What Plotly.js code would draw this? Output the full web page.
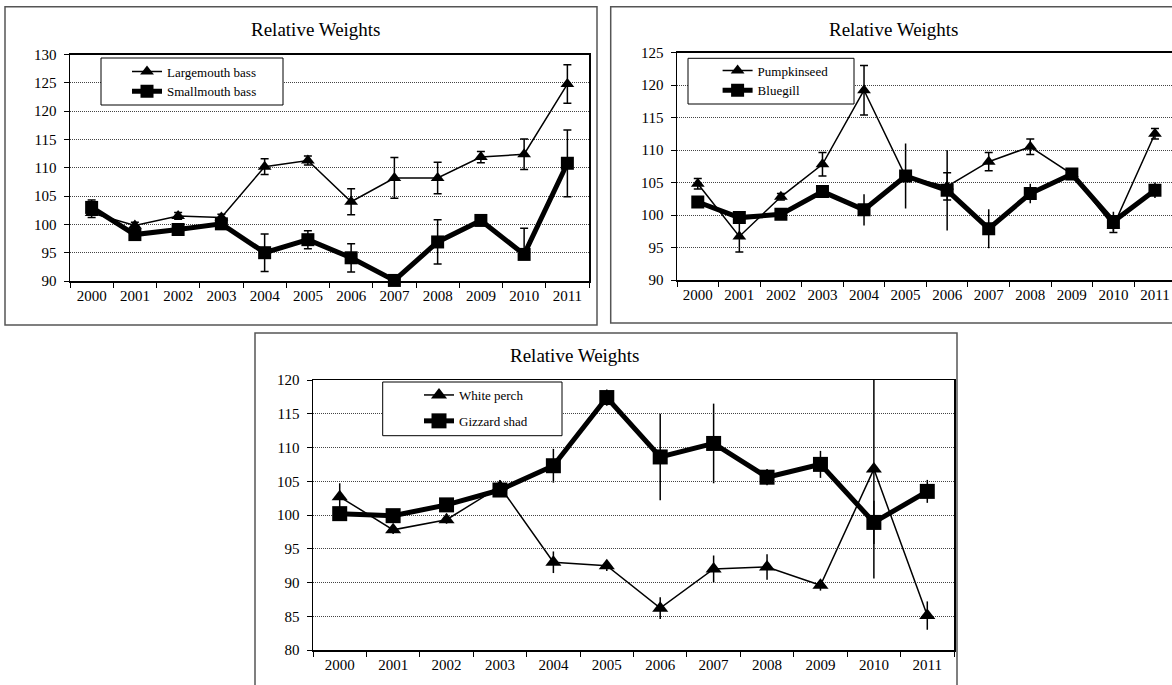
<!DOCTYPE html>
<html>
<head>
<meta charset="utf-8">
<script src="https://cdn.plot.ly/plotly-3.0.1.min.js"></script>
<style>
  html, body { margin: 0; padding: 0; background: #fff; }
  #chart { width: 1172px; height: 685px; }
</style>
</head>
<body>
<div id="chart"></div>
<script>
// ---------- data ----------
var years = ['2000','2001','2002','2003','2004','2005','2006','2007','2008','2009','2010','2011'];
var chartTitle = 'Relative Weights';

// Panel 1
var largemouth      = [102.0, 99.8, 101.5, 101.2, 110.2, 111.3, 104.0, 108.2, 108.2, 111.9, 112.4, 124.8];
var largemouthErr   = [0.8, 0.6, 0.6, 0.6, 1.4, 0.8, 2.3, 3.6, 2.8, 1.0, 2.7, 3.4];
var smallmouth      = [103.0, 98.2, 99.1, 100.1, 95.0, 97.3, 94.1, 90.1, 96.9, 100.7, 94.7, 110.8];
var smallmouthErrUp = [1.3, 1.0, 0.8, 0.8, 3.3, 1.6, 2.5, 0.6, 3.9, 0.5, 4.6, 5.9];
var smallmouthErrDn = [1.3, 1.0, 0.8, 0.8, 3.3, 1.6, 2.5, 0.6, 3.9, 0.5, 0.8, 5.9];

// Panel 2
var pumpkinseed    = [104.8, 96.7, 102.8, 107.8, 119.2, 105.9, 104.4, 108.2, 110.5, 106.3, 98.3, 112.5];
var pumpkinseedErr = [0.8, 2.4, 0.5, 1.8, 3.8, 0.6, 2.1, 1.4, 1.2, 0.5, 1.0, 0.8];
var bluegill       = [102.0, 99.6, 100.1, 103.6, 100.8, 106.0, 103.8, 97.9, 103.3, 106.3, 99.0, 103.8];
var bluegillErr    = [0.8, 0.8, 0.5, 0.7, 2.4, 5.0, 6.2, 3.0, 1.5, 0.6, 1.5, 1.2];

// Panel 3
var whitePerch     = [102.7, 97.8, 99.3, 104.2, 93.0, 92.5, 86.2, 92.0, 92.3, 89.6, 106.8, 85.1];
var whitePerchErr  = [2.0, 0.6, 0.6, 1.0, 1.6, 0.8, 1.6, 2.0, 1.9, 0.8, 16.2, 2.1];
var gizzardShad    = [100.2, 99.9, 101.5, 103.7, 107.3, 117.4, 108.6, 110.6, 105.6, 107.5, 98.9, 103.5];
var gizzardShadErr = [0.8, 0.6, 0.6, 0.8, 2.5, 1.2, 6.4, 5.9, 1.2, 2.0, 3.2, 1.7];

// ---------- helpers ----------
var FONT = "'Liberation Serif', 'Times New Roman', 'DejaVu Serif', serif";
var W = 1172, H = 685;
function px(x) { return x / W; }
function py(y) { return 1 - y / H; }

function thinTrace(name, y, err, errMinus, xa, ya, leg, msize, cap) {
  return {
    type: 'scatter', mode: 'lines+markers', name: name, x: years, y: y,
    xaxis: xa, yaxis: ya, legend: leg, legendgroup: name,
    line: { color: '#000', width: 1.5 },
    marker: { symbol: 'triangle-up', size: msize, color: '#000' },
    error_y: { type: 'data', array: err, arrayminus: errMinus || err, visible: true,
               color: '#000', thickness: 1.5, width: cap }
  };
}
function thickTrace(name, y, err, errMinus, xa, ya, leg, msize, cap, clip) {
  return {
    type: 'scatter', mode: 'lines+markers', name: name, x: years, y: y,
    xaxis: xa, yaxis: ya, legend: leg, legendgroup: name, cliponaxis: clip,
    line: { color: '#000', width: 5 },
    marker: { symbol: 'square', size: msize, color: '#000' },
    error_y: { type: 'data', array: err, arrayminus: errMinus || err, visible: true,
               color: '#000', thickness: 1.5, width: cap }
  };
}

var data = [
  thinTrace('Largemouth bass', largemouth, largemouthErr, null, 'x', 'y', 'legend', 12, 4),
  thickTrace('Smallmouth bass', smallmouth, smallmouthErrUp, smallmouthErrDn, 'x', 'y', 'legend', 13, 4, false),
  thinTrace('Pumpkinseed', pumpkinseed, pumpkinseedErr, null, 'x2', 'y2', 'legend2', 12, 4),
  thickTrace('Bluegill', bluegill, bluegillErr, null, 'x2', 'y2', 'legend2', 13, 0, true),
  thinTrace('White perch', whitePerch, whitePerchErr, null, 'x3', 'y3', 'legend3', 14, 0),
  thickTrace('Gizzard shad', gizzardShad, gizzardShadErr, null, 'x3', 'y3', 'legend3', 15, 0, true)
];

function xAxis(domain, range, anchor) {
  return {
    domain: domain, anchor: anchor, type: 'category', range: range,
    tickson: 'boundaries', ticks: 'outside', ticklen: 5, tickwidth: 1, tickcolor: '#000',
    showline: true, linecolor: '#000', linewidth: 1.5, mirror: true,
    showgrid: false, zeroline: false, fixedrange: true,
    tickfont: { family: FONT, size: 15, color: '#000' }
  };
}
function yAxis(domain, range, anchor) {
  return {
    domain: domain, anchor: anchor, range: range, dtick: 5, tick0: range[0],
    ticks: 'outside', ticklen: 5, tickwidth: 1, tickcolor: '#000',
    showline: true, linecolor: '#000', linewidth: 1.5, mirror: true,
    showgrid: true, gridcolor: '#444', gridwidth: 1, griddash: '1px,1px',
    zeroline: false, fixedrange: true, ticklabelstandoff: 4,
    tickfont: { family: FONT, size: 15, color: '#000' }
  };
}
function legendBox(x0, x1, y0, y1) {
  return { type: 'rect', xref: 'paper', yref: 'paper', layer: 'above',
    x0: px(x0), x1: px(x1), y0: py(y1), y1: py(y0),
    line: { color: '#000', width: 1 }, fillcolor: '#fff' };
}
function frame(x0, x1, y0, y1) {
  return { type: 'rect', xref: 'paper', yref: 'paper', layer: 'below',
    x0: x0, x1: x1, y0: y0, y1: y1,
    line: { color: '#555', width: 1.5 }, fillcolor: 'rgba(0,0,0,0)' };
}
function legendCfg(x, y, gap) {
  return { x: px(x), y: py(y), xanchor: 'left', yanchor: 'top',
    bgcolor: 'rgba(0,0,0,0)', borderwidth: 0, traceorder: 'grouped',
    tracegroupgap: gap, font: { family: FONT, size: 13, color: '#000' } };
}
function titleAnn(x, y) {
  return { text: chartTitle, xref: 'paper', yref: 'paper', x: px(x), y: py(y),
    xanchor: 'center', yanchor: 'middle', showarrow: false,
    font: { family: FONT, size: 19, color: '#000' } };
}

var layout = {
  width: W, height: H,
  margin: { l: 0, r: 0, t: 0, b: 0 },
  paper_bgcolor: '#fff', plot_bgcolor: '#fff',
  showlegend: true,
  xaxis:  xAxis([px(70), px(589)], [-0.5, 11.5], 'y'),
  yaxis:  yAxis([py(281), py(54.6)], [90, 130], 'x'),
  xaxis2: xAxis([px(677), 1], [-0.5, 11.41], 'y2'),
  yaxis2: yAxis([py(280), py(52.5)], [90, 125], 'x2'),
  xaxis3: xAxis([px(313), px(954)], [-0.5, 11.5], 'y3'),
  yaxis3: yAxis([py(650), py(380)], [80, 120], 'x3'),
  legend:  legendCfg(127, 56.5, 0),
  legend2: legendCfg(717.6, 55.5, 0),
  legend3: legendCfg(419, 380, 6),
  shapes: [
    frame(px(5), px(597), py(325), py(6.7)),
    frame(px(610.7), 1.01, py(323), py(6.7)),
    frame(px(255), px(957), -0.05, py(333)),
    legendBox(101, 283, 58, 105),
    legendBox(688, 854, 58.3, 104),
    legendBox(382.7, 562, 382, 435.7)
  ],
  annotations: [
    titleAnn(316, 30),
    titleAnn(894, 30),
    titleAnn(574.6, 355)
  ]
};

Plotly.newPlot('chart', data, layout, { staticPlot: true, displayModeBar: false });
</script>
</body>
</html>
